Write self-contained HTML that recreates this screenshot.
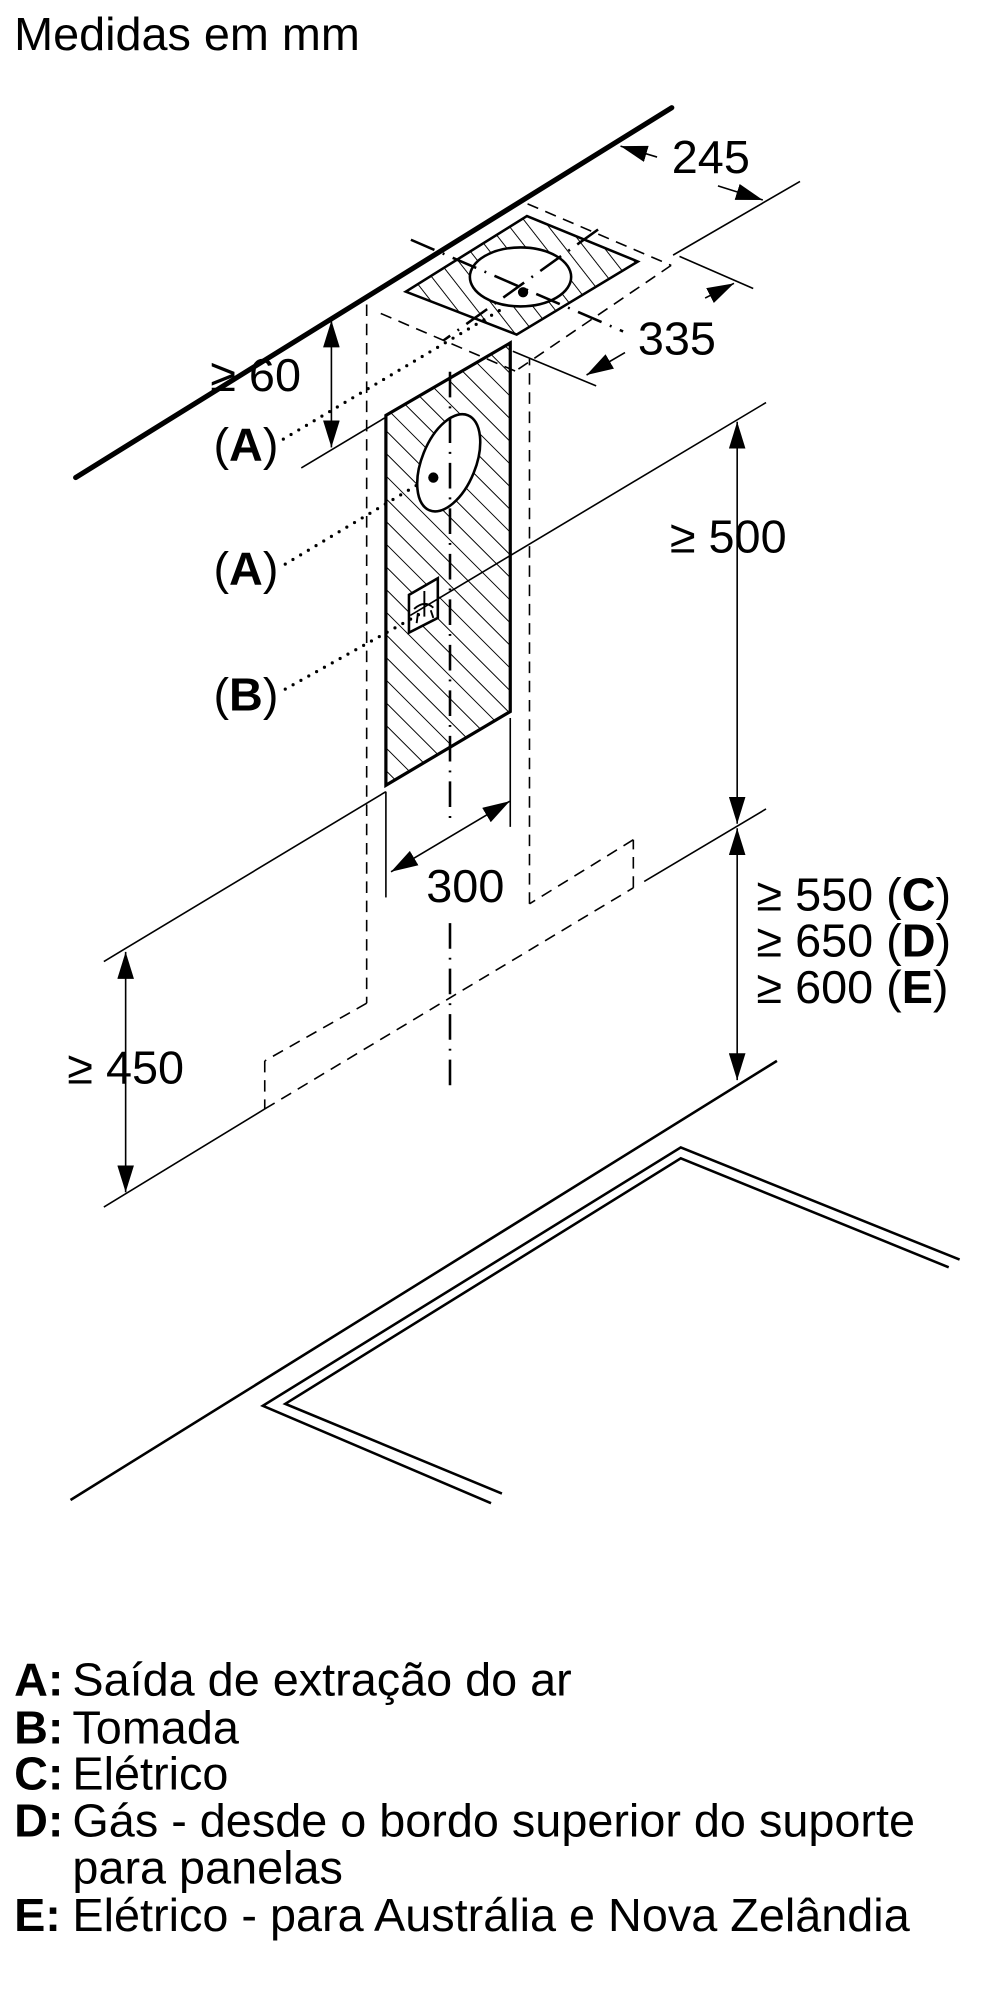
<!DOCTYPE html>
<html><head><meta charset="utf-8"><style>
html,body{margin:0;padding:0;background:#fff;}
svg{display:block;}
text{font-family:"Liberation Sans",Arial,sans-serif;fill:#000;}
</style></head><body>
<svg width="1000" height="2000" viewBox="0 0 1560 3120" xmlns="http://www.w3.org/2000/svg">
<defs>
<marker id="ar" markerUnits="userSpaceOnUse" markerWidth="44" markerHeight="26" refX="42" refY="13" orient="auto-start-reverse">
<path d="M0,0 L42,13 L0,26 Z" fill="#000"/>
</marker>
<pattern id="hc" patternUnits="userSpaceOnUse" width="25" height="25" patternTransform="rotate(-45)">
<line x1="0" y1="0" x2="0" y2="25" stroke="#000" stroke-width="3"/>
</pattern>
<pattern id="hp" patternUnits="userSpaceOnUse" width="24" height="24" patternTransform="rotate(-38)">
<line x1="0" y1="0" x2="0" y2="24" stroke="#000" stroke-width="3"/>
</pattern>
</defs>
<rect width="1560" height="3120" fill="#fff"/>
<text x="22" y="78" font-size="73">Medidas em mm</text>

<line x1="118" y1="745" x2="1048" y2="168" stroke="#000" stroke-width="8" stroke-linecap="round"/>

<g stroke="#000" stroke-width="2.5" fill="none" stroke-dasharray="18,12">
<line x1="823" y1="318" x2="1047" y2="414"/>
<line x1="1047" y1="414" x2="804" y2="579"/>
<line x1="594" y1="489" x2="804" y2="579"/>
<line x1="572" y1="475" x2="572" y2="1565"/>
<line x1="572" y1="1565" x2="413" y2="1655"/>
<line x1="413" y1="1655" x2="413" y2="1730"/>
<line x1="413" y1="1730" x2="988" y2="1385"/>
<line x1="988" y1="1385" x2="988" y2="1310"/>
<line x1="988" y1="1310" x2="826" y2="1410"/>
<line x1="826" y1="1410" x2="826" y2="560"/>
</g>

<polygon points="633,455 822,337 995,408 806,522" fill="url(#hp)" stroke="#000" stroke-width="4"/>
<ellipse cx="812" cy="432" rx="79" ry="46" fill="#fff" stroke="#000" stroke-width="4"/>
<circle cx="816" cy="456" r="8" fill="#000"/>
<g stroke="#000" stroke-width="4" fill="none" stroke-dasharray="40,14,3,14">
<line x1="641" y1="374" x2="972" y2="517"/>
<line x1="933" y1="358" x2="692" y2="531"/>
</g>

<polygon points="602,648 796,535 796,1110 602,1225" fill="url(#hc)" stroke="#000" stroke-width="5"/>
<ellipse cx="700" cy="722" rx="42" ry="80" transform="rotate(22 700 722)" fill="#fff" stroke="#000" stroke-width="4"/>
<circle cx="676" cy="745" r="8" fill="#000"/>
<polygon points="638,928 683,902 683,964 638,987" fill="#fff" stroke="#000" stroke-width="4"/>
<path d="M662,922 L662,962 M646,950 Q662,935 676,948 M652,956 L650,972 M672,952 L676,964" stroke="#000" stroke-width="3" fill="none"/>

<g stroke="#000" stroke-width="4" fill="none" stroke-dasharray="40,14,3,14">
<line x1="702" y1="580" x2="702" y2="1290"/>
<line x1="702" y1="1440" x2="702" y2="1705"/>
</g>

<g stroke="#000" stroke-width="5" fill="none" stroke-dasharray="0,14" stroke-linecap="round">
<line x1="442" y1="685" x2="790" y2="478"/>
<line x1="445" y1="880" x2="650" y2="757"/>
<line x1="445" y1="1075" x2="660" y2="955"/>
</g>

<g stroke="#000" stroke-width="2.5" fill="none">
<line x1="470" y1="730" x2="600" y2="652"/>
<line x1="1248" y1="283" x2="1050" y2="398"/>
<line x1="1060" y1="400" x2="1175" y2="450"/>
<line x1="800" y1="548" x2="930" y2="602"/>
<line x1="1195" y1="628" x2="640" y2="960"/>
<line x1="1195" y1="1262" x2="1005" y2="1375"/>
<line x1="602" y1="1235" x2="162" y2="1500"/>
<line x1="162" y1="1883" x2="413" y2="1730"/>
<line x1="602" y1="1235" x2="602" y2="1400"/>
<line x1="796" y1="1120" x2="796" y2="1290"/>
<line x1="517" y1="500" x2="517" y2="698" marker-start="url(#ar)" marker-end="url(#ar)"/>
<line x1="1150" y1="658" x2="1150" y2="1285" marker-start="url(#ar)" marker-end="url(#ar)"/>
<line x1="1150" y1="1292" x2="1150" y2="1685" marker-start="url(#ar)" marker-end="url(#ar)"/>
<line x1="196" y1="1485" x2="196" y2="1860" marker-start="url(#ar)" marker-end="url(#ar)"/>
<line x1="610" y1="1360" x2="795" y2="1250" marker-start="url(#ar)" marker-end="url(#ar)"/>
<line x1="1025" y1="245" x2="968" y2="228" marker-end="url(#ar)"/>
<line x1="1120" y1="290" x2="1190" y2="312" marker-end="url(#ar)"/>
<line x1="1100" y1="465" x2="1145" y2="442" marker-end="url(#ar)"/>
<line x1="975" y1="550" x2="915" y2="585" marker-end="url(#ar)"/>
</g>

<g stroke="#000" stroke-width="4" fill="none">
<line x1="110" y1="2340" x2="1212" y2="1655"/>
<polyline points="766,2345 410,2193 1062,1790 1497,1965"/>
<polyline points="783,2330 445,2190 1062,1807 1480,1977"/>
</g>

<g font-size="73">
<text x="1048" y="270">245</text>
<text x="995" y="553">335</text>
<text x="328" y="610">≥ 60</text>
<text x="333" y="718">(<tspan font-weight="bold">A</tspan>)</text>
<text x="333" y="912">(<tspan font-weight="bold">A</tspan>)</text>
<text x="333" y="1108">(<tspan font-weight="bold">B</tspan>)</text>
<text x="1045" y="862">≥ 500</text>
<text x="665" y="1407">300</text>
<text x="1180" y="1420">≥ 550 (<tspan font-weight="bold">C</tspan>)</text>
<text x="1180" y="1492">≥ 650 (<tspan font-weight="bold">D</tspan>)</text>
<text x="1180" y="1565">≥ 600 (<tspan font-weight="bold">E</tspan>)</text>
<text x="105" y="1690">≥ 450</text>
</g>

<g font-size="73">
<text x="22" y="2645" font-weight="bold">A:</text><text x="113" y="2645">Saída de extração do ar</text>
<text x="22" y="2720" font-weight="bold">B:</text><text x="113" y="2720">Tomada</text>
<text x="22" y="2792" font-weight="bold">C:</text><text x="113" y="2792">Elétrico</text>
<text x="22" y="2865" font-weight="bold">D:</text><text x="113" y="2865">Gás - desde o bordo superior do suporte</text>
<text x="113" y="2938">para panelas</text>
<text x="22" y="3012" font-weight="bold">E:</text><text x="113" y="3012">Elétrico - para Austrália e Nova Zelândia</text>
</g>
</svg>
</body></html>
